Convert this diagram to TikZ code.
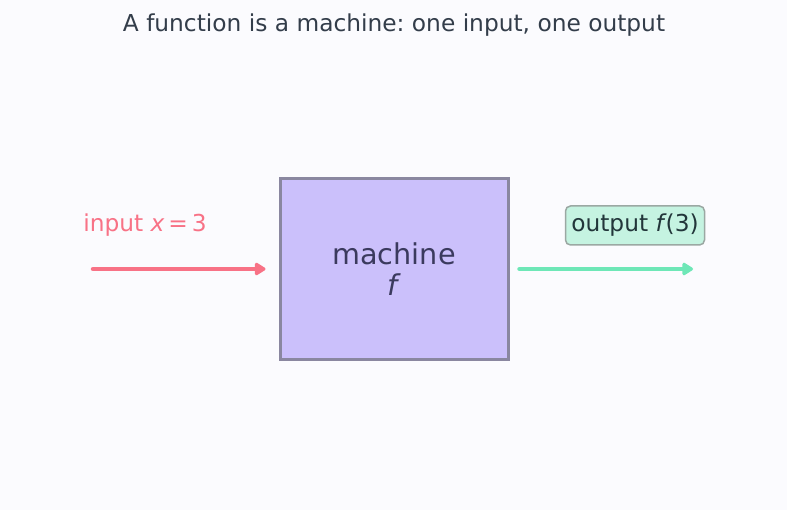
\documentclass[tikz,border=0pt]{standalone}
\usepackage{xcolor}
\usepackage{fontspec}
\setmainfont{DejaVu Sans}
\usetikzlibrary{arrows.meta,positioning}
\frenchspacing

\definecolor{bgcol}{RGB}{251,251,254}
\definecolor{titlecol}{RGB}{51,61,74}
\definecolor{inputcol}{RGB}{248,114,134}
\definecolor{outputcol}{RGB}{110,231,183}
\definecolor{boxfill}{RGB}{203,192,251}
\definecolor{boxline}{RGB}{138,135,160}
\definecolor{boxtext}{RGB}{59,58,94}
\definecolor{tagfill}{RGB}{197,243,225}
\definecolor{tagline}{RGB}{155,168,163}
\definecolor{tagtext}{RGB}{34,54,58}

\begin{document}
\begin{tikzpicture}[ x = 1pt, y = -1pt,
    labeltext/.style = {font = \fontsize{23.3}{27}\selectfont, inner sep = 0pt},
    machinebox/.style = {draw = boxline, line width = 3pt, fill = boxfill,
      minimum width = 228pt, minimum height = 181pt, inner sep = 0pt,
      text = boxtext, align = center, font = \fontsize{28.7}{31}\selectfont},
    outtag/.style = {labeltext, draw = tagline, line width = 1.5pt, fill = tagfill,
      rounded corners = 5pt, minimum width = 139pt, minimum height = 39pt, text = tagtext},
    flow/.style = {line width = 4.5pt, line cap = round,
      -{Triangle[length = 12pt, width = 14pt, round]}} ]

    \useasboundingbox[fill = bgcol] (0,0) rectangle (787,510);

    \node[labeltext, text = titlecol] (title) at (394,25)
      {A function is a machine: one input, one output};

    \node[machinebox] (machine) at (394,269.5) {machine\\\textit{f}};

    \node[labeltext, text = inputcol] (inlabel) at (145,225) {input \textit{x}\,=\,3};
    \node[outtag] (outlabel) at (635,225.5) {output \textit{f}\kern-1pt(3)};

    \coordinate (instart) at (93,269);
    \coordinate (outend) at (693,269);

    % arrows in and out of the machine
    \draw[flow, draw = inputcol, fill = inputcol, shorten > = 13pt] (instart) -- (machine.west |- instart);
    \draw[flow, draw = outputcol, fill = outputcol, shorten < = 10pt] (machine.east |- outend) -- (outend);

\end{tikzpicture}
\end{document}
